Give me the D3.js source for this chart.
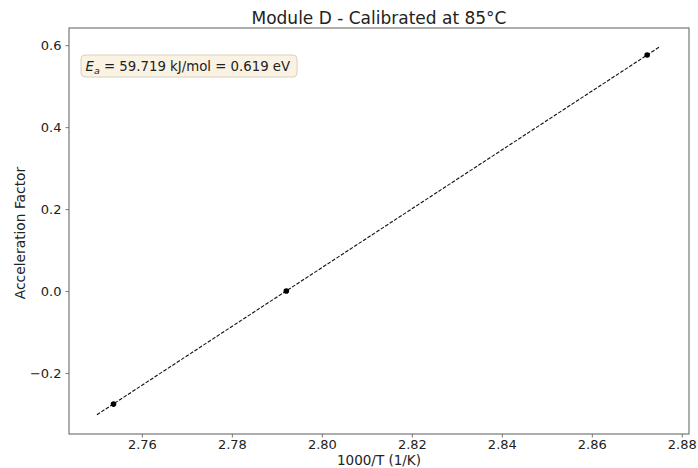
<!DOCTYPE html>
<html lang="en">
<head>
<meta charset="UTF-8">
<script src="https://d3js.org/d3.v7.min.js"></script>
<title>Module D</title>
<style>
  body { margin: 0; background: #fff; }
  text { font-family: "DejaVu Sans", sans-serif; fill: #222; }
  .axis line { stroke: #777; }
  .axis text { font-size: 13px; fill: #222; }
</style>
</head>
<body>
<div id="chart"></div>
<script>
// measured points: 1000/T vs ln(acceleration factor)
var invT = [2.7537, 2.7921, 2.8723];
var accel = [-0.276, 0.0, 0.576];
// fitted Arrhenius line end points
var fitX = [2.75, 2.875];
var fitY = [-0.302, 0.5955];
var xTicks = [2.76, 2.78, 2.80, 2.82, 2.84, 2.86, 2.88];
var yTicks = [-0.2, 0.0, 0.2, 0.4, 0.6];

var W = 698, H = 468;
var margin = {top: 28, right: 9, bottom: 34, left: 69},
    width = W - margin.left - margin.right,
    height = H - margin.top - margin.bottom;

var x = d3.scaleLinear().domain([2.7438, 2.8816]).range([0, width]);
var y = d3.scaleLinear().domain([-0.349, 0.642]).range([height, 0]);

var svg = d3.select("#chart").append("svg")
    .attr("width", W)
    .attr("height", H);

var g = svg.append("g")
    .attr("transform", "translate(" + margin.left + "," + margin.top + ")");

// axes
g.append("g")
    .attr("class", "axis")
    .attr("transform", "translate(0," + height + ")")
    .call(d3.axisBottom(x).tickValues(xTicks).tickSize(3.5).tickPadding(2.5)
      .tickFormat(d3.format(".2f")));

g.append("g")
    .attr("class", "axis")
    .call(d3.axisLeft(y).tickValues(yTicks).tickSize(3.5).tickPadding(4)
      .tickFormat(function(d) { return d3.format(".1f")(d).replace("-", "\u2212"); }));

g.selectAll(".axis .domain").remove();

// frame
g.append("rect")
    .attr("width", width)
    .attr("height", height)
    .attr("fill", "none")
    .attr("stroke", "#777")
    .attr("stroke-width", 1.2);

// fit line
var line = d3.line()
    .x(function(d) { return x(d[0]); })
    .y(function(d) { return y(d[1]); });

g.append("path")
    .datum(d3.zip(fitX, fitY))
    .attr("d", line)
    .attr("fill", "none")
    .attr("stroke", "#111")
    .attr("stroke-width", 1.1)
    .attr("stroke-dasharray", "3.7,1.6");

// data points
g.selectAll(".dot")
    .data(d3.zip(invT, accel))
  .enter().append("circle")
    .attr("class", "dot")
    .attr("cx", function(d) { return x(d[0]); })
    .attr("cy", function(d) { return y(d[1]); })
    .attr("r", 2.8)
    .attr("fill", "#000");

// annotation box
var box = g.append("g").attr("transform", "translate(12,27)");
box.append("rect")
    .attr("width", 216)
    .attr("height", 22)
    .attr("rx", 4)
    .attr("fill", "#faf3e3")
    .attr("stroke", "#d9d0be")
    .attr("stroke-width", 1);

var ann = box.append("text")
    .attr("x", 4.5)
    .attr("y", 16)
    .attr("font-size", "13.3px");
ann.append("tspan").attr("font-style", "italic").text("E");
ann.append("tspan").attr("font-style", "italic").attr("font-size", "9.5px").attr("dy", 2.5).text("a");
ann.append("tspan").attr("dy", -2.5).text(" = 59.719 kJ/mol = 0.619 eV");

// title and labels
svg.append("text")
    .attr("x", margin.left + width / 2)
    .attr("y", 23.5)
    .attr("text-anchor", "middle")
    .attr("font-size", "17px")
    .text("Module D - Calibrated at 85\u00b0C");

svg.append("text")
    .attr("x", margin.left + width / 2)
    .attr("y", 464.5)
    .attr("text-anchor", "middle")
    .attr("font-size", "13.5px")
    .text("1000/T (1/K)");

svg.append("text")
    .attr("transform", "translate(25," + (margin.top + height / 2 + 2) + ") rotate(-90)")
    .attr("text-anchor", "middle")
    .attr("font-size", "13.8px")
    .text("Acceleration Factor");
</script>
</body>
</html>
